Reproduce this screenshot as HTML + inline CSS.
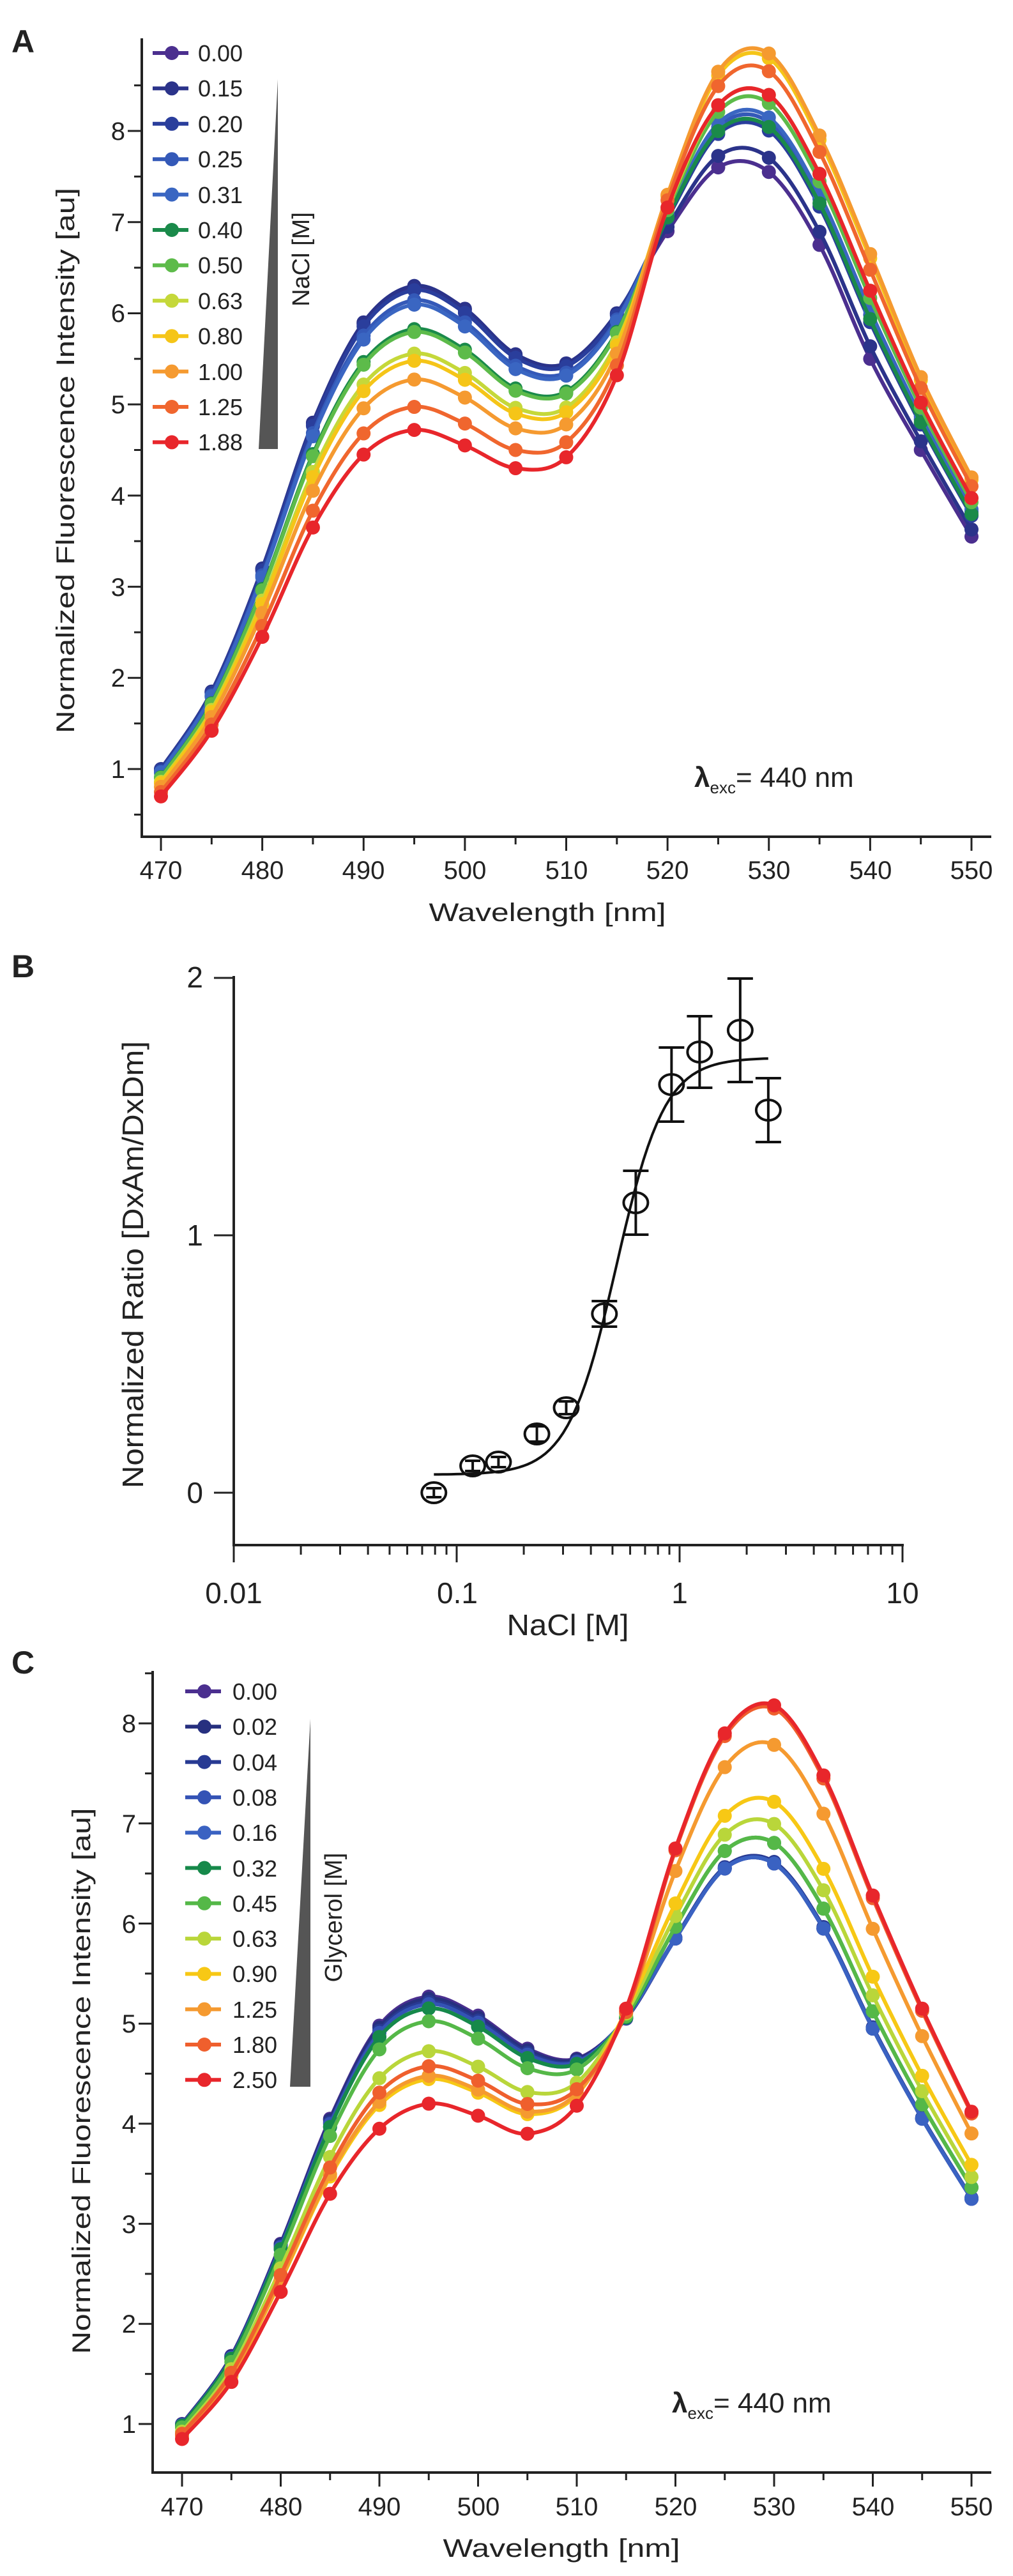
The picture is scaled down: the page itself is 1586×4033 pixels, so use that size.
<!DOCTYPE html>
<html><head><meta charset="utf-8"><style>
html,body{margin:0;padding:0;background:#fff;}
svg{display:block;font-family:"Liberation Sans",Arial,sans-serif;}
</style></head><body>
<svg id="s" width="1586" height="4033" viewBox="0 0 1586 4033" xmlns="http://www.w3.org/2000/svg">
<rect width="1586" height="4033" fill="#fff"/>
<g id="axes" stroke="#222" fill="none"></g>
<g id="curves"></g>
<g font-size="40" fill="#222">
<text x="18" y="82" font-size="50" font-weight="bold">A</text>
<text x="18" y="1530" font-size="50" font-weight="bold">B</text>
<text x="18" y="2620" font-size="50" font-weight="bold">C</text>
<g text-anchor="middle">
<text x="252" y="1376">470</text><text x="411" y="1376">480</text><text x="569" y="1376">490</text><text x="728" y="1376">500</text><text x="887" y="1376">510</text><text x="1045" y="1376">520</text><text x="1204" y="1376">530</text><text x="1363" y="1376">540</text><text x="1521" y="1376">550</text>
<text x="857" y="1442" textLength="371" lengthAdjust="spacingAndGlyphs">Wavelength [nm]</text>
<text transform="translate(116,721) rotate(-90)" textLength="854" lengthAdjust="spacingAndGlyphs">Normalized Fluorescence Intensity [au]</text>
<text x="285" y="3938">470</text><text x="440" y="3938">480</text><text x="594" y="3938">490</text><text x="749" y="3938">500</text><text x="903" y="3938">510</text><text x="1058" y="3938">520</text><text x="1212" y="3938">530</text><text x="1367" y="3938">540</text><text x="1521" y="3938">550</text>
<text x="879" y="4003" textLength="371" lengthAdjust="spacingAndGlyphs">Wavelength [nm]</text>
<text transform="translate(141,3258) rotate(-90)" textLength="855" lengthAdjust="spacingAndGlyphs">Normalized Fluorescence Intensity [au]</text>
<g font-size="46">
<text x="366" y="2510">0.01</text><text x="716" y="2510">0.1</text><text x="1064" y="2510">1</text><text x="1413" y="2510">10</text>
<text x="889" y="2560" textLength="191" lengthAdjust="spacingAndGlyphs">NaCl [M]</text>
<text transform="translate(224,1980) rotate(-90)" textLength="700" lengthAdjust="spacingAndGlyphs">Normalized Ratio [DxAm/DxDm]</text>
</g>
</g>
<g text-anchor="end">
<text x="196" y="1218">1</text><text x="196" y="1075">2</text><text x="196" y="933">3</text><text x="196" y="790">4</text><text x="196" y="647">5</text><text x="196" y="504">6</text><text x="196" y="362">7</text><text x="196" y="219">8</text>
<text x="213" y="3809">1</text><text x="213" y="3652">2</text><text x="213" y="3496">3</text><text x="213" y="3339">4</text><text x="213" y="3182">5</text><text x="213" y="3026">6</text><text x="213" y="2869">7</text><text x="213" y="2712">8</text>
<g font-size="46"><text x="318" y="2353">0</text><text x="318" y="1950">1</text><text x="318" y="1546">2</text></g>
</g>
<g font-size="36" id="legA">
<text x="310" y="96">0.00</text><text x="310" y="151">0.15</text><text x="310" y="207">0.20</text><text x="310" y="262">0.25</text><text x="310" y="318">0.31</text><text x="310" y="373">0.40</text><text x="310" y="428">0.50</text><text x="310" y="484">0.63</text><text x="310" y="539">0.80</text><text x="310" y="595">1.00</text><text x="310" y="650">1.25</text><text x="310" y="705">1.88</text>
<text x="364" y="2661">0.00</text><text x="364" y="2716">0.02</text><text x="364" y="2772">0.04</text><text x="364" y="2827">0.08</text><text x="364" y="2882">0.16</text><text x="364" y="2938">0.32</text><text x="364" y="2993">0.45</text><text x="364" y="3048">0.63</text><text x="364" y="3103">0.90</text><text x="364" y="3159">1.25</text><text x="364" y="3214">1.80</text><text x="364" y="3269">2.50</text>
<text transform="translate(484,406) rotate(-90)" text-anchor="middle" font-size="38">NaCl [M]</text>
<text transform="translate(535,3002) rotate(-90)" text-anchor="middle" font-size="38">Glycerol [M]</text>
</g>
<polygon points="435,124 435,703 405,703" fill="#555"/>
<polygon points="486,2691 486,3267 454,3267" fill="#555"/>
<text x="1087" y="1232" font-size="44"><tspan font-weight="bold">λ</tspan><tspan font-size="26" dy="10">exc</tspan><tspan dy="-10">= 440 nm</tspan></text>
<text x="1052" y="3777" font-size="44"><tspan font-weight="bold">λ</tspan><tspan font-size="26" dy="10">exc</tspan><tspan dy="-10">= 440 nm</tspan></text>
</g>
</svg>
<script>
var NS="http://www.w3.org/2000/svg";
var AX=document.getElementById("axes"),CV=document.getElementById("curves");
function el(p,n,a){var e=document.createElementNS(NS,n);for(var k in a)e.setAttribute(k,a[k]);p.appendChild(e);return e;}
function ln(x1,y1,x2,y2,w){el(AX,"line",{x1:x1,y1:y1,x2:x2,y2:y2,"stroke-width":w||4});}
ln(222,60,222,1312);ln(220,1310,1552,1310);
for(var v=0.5;v<=8.51;v+=0.5){var y=1204-(v-1)*142.71;ln(Math.abs(v-Math.round(v))<0.01?200:210,y,222,y,3);}
for(var w=470;w<=550;w+=5){var x=252+(w-470)*15.8625;ln(x,1310,x,w%10==0?1332:1322,3);}
ln(239,2616,239,3873);ln(237,3871,1552,3871);
for(var v=1;v<=8.51;v+=0.5){var y=3795-(v-1)*156.7;ln(Math.abs(v-Math.round(v))<0.01?217:227,y,239,y,3);}
for(var w=470;w<=550;w+=5){var x=285+(w-470)*15.45;ln(x,3871,x,w%10==0?3893:3883,3);}
ln(366,1528,366,2421);ln(364,2419,1415,2419);
[0,1,2].forEach(function(v){var y=2337-v*403;ln(335,y,366,y,3);});
function LX(x){return 366+(Math.log10(x)+2)*349;}
for(var d=0.01;d<10;d*=10){for(var m=1;m<=10;m++){var x=LX(d*m);ln(x,2419,x,(m==1||m==10)?2446:2434,3);}}
function path(pts){var s="M"+pts[0][0]+","+pts[0][1];for(var i=0;i<pts.length-1;i++){var p0=pts[i-1]||pts[i],p1=pts[i],p2=pts[i+1],p3=pts[i+2]||p2;
s+=" C"+(p1[0]+(p2[0]-p0[0])/6)+","+(p1[1]+(p2[1]-p0[1])/6)+" "+(p2[0]-(p3[0]-p1[0])/6)+","+(p2[1]-(p3[1]-p1[1])/6)+" "+p2[0]+","+p2[1];}return s;}
function spectra(Bs,Rs,Lo,Hi,S,T,cols,X,Y,lx,ly0,dy){
 for(var i=0;i<12;i++){var pts=[];for(var k=0;k<17;k++){var w=470+5*k,v;
  if(k<10)v=Bs[k]+S[i]*(Rs[k]-Bs[k]);else{var j=k-10;v=Lo[j]+T[i]*(Hi[j]-Lo[j]);}
  pts.push([X(w),Y(v)]);}
  el(CV,"path",{d:path(pts),fill:"none",stroke:cols[i],"stroke-width":6});
  pts.forEach(function(p){el(CV,"circle",{cx:p[0],cy:p[1],r:11,fill:cols[i]});});
 }
 for(var i=0;i<12;i++){var y=ly0+dy*i;el(CV,"line",{x1:lx-30,y1:y,x2:lx+26,y2:y,stroke:cols[i],"stroke-width":6});el(CV,"circle",{cx:lx,cy:y,r:11,fill:cols[i]});}
}
spectra([1.0,1.85,3.2,4.8,5.9,6.3,6.05,5.55,5.45,6.0],[0.7,1.42,2.45,3.65,4.45,4.72,4.55,4.3,4.42,5.32],
 [6.9,7.6,7.55,6.75,5.5,4.5,3.55],[7.3,8.65,8.85,7.95,6.65,5.3,4.2],
 [0.01,0,0.03,0.1,0.13,0.3,0.32,0.47,0.52,0.65,0.84,1],[0,0.12,0.35,0.42,0.46,0.38,0.58,0.65,0.96,1,0.85,0.65],
 ["#4b2f8f","#2b338a","#2a3e9c","#3459b8","#3a66c2","#1a8a4a","#5dbb4a","#c5d83a","#f5c518","#f59a30","#f0662e","#e8262b"],
 function(w){return 252+(w-470)*15.8625;},function(v){return 1204-(v-1)*142.71;},269,83,55.4);
spectra([1.0,1.68,2.8,4.05,4.98,5.27,5.08,4.75,4.65,5.05],[0.85,1.42,2.32,3.3,3.95,4.2,4.08,3.9,4.18,5.15],
 [5.85,6.55,6.6,5.95,4.95,4.05,3.25],[6.75,7.9,8.18,7.48,6.28,5.15,4.12],
 [0,0.02,0.05,0.07,0.11,0.11,0.23,0.51,0.77,0.74,0.65,1],[0,0,0.01,0,0,0.13,0.13,0.25,0.39,0.75,0.98,1],
 ["#4b2f8f","#27307f","#283a93","#3453b5","#3a62c2","#16894a","#55b848","#b9d63a","#f7c815","#f59a30","#ef5f2d","#e8262b"],
 function(w){return 285+(w-470)*15.45;},function(v){return 3795-(v-1)*156.7;},320,2648,55.3);
function BY(v){return 2337-v*403;}
var fit=[];for(var lx=Math.log10(0.079);lx<=Math.log10(2.5)+1e-9;lx+=0.02){var x=Math.pow(10,lx);var n=4,K=0.52;var v=0.07+1.62*Math.pow(x,n)/(Math.pow(x,n)+Math.pow(K,n));fit.push([LX(x),BY(v)]);}
el(CV,"path",{d:"M"+fit.map(function(p){return p[0].toFixed(1)+","+p[1].toFixed(1);}).join(" L"),fill:"none",stroke:"#111","stroke-width":4});
var D=[[0.079,2337,7],[0.118,2295,8],[0.154,2289,8],[0.229,2245,12],[0.31,2204,10],[0.46,2057,20],[0.636,1883,50],[0.92,1698,58],[1.23,1647,56],[1.87,1613,81],[2.5,1738,50]];
D.forEach(function(d){var x=LX(d[0]),y=d[1],e=d[2];
 el(CV,"line",{x1:x,y1:y-e,x2:x,y2:y+e,stroke:"#111","stroke-width":4});
 var cw=e>15?20:12;
 el(CV,"line",{x1:x-cw,y1:y-e,x2:x+cw,y2:y-e,stroke:"#111","stroke-width":4});el(CV,"line",{x1:x-cw,y1:y+e,x2:x+cw,y2:y+e,stroke:"#111","stroke-width":4});
 el(CV,"ellipse",{cx:x,cy:y,rx:19,ry:16,fill:"none",stroke:"#111","stroke-width":4});
});
</script>
</body></html>
